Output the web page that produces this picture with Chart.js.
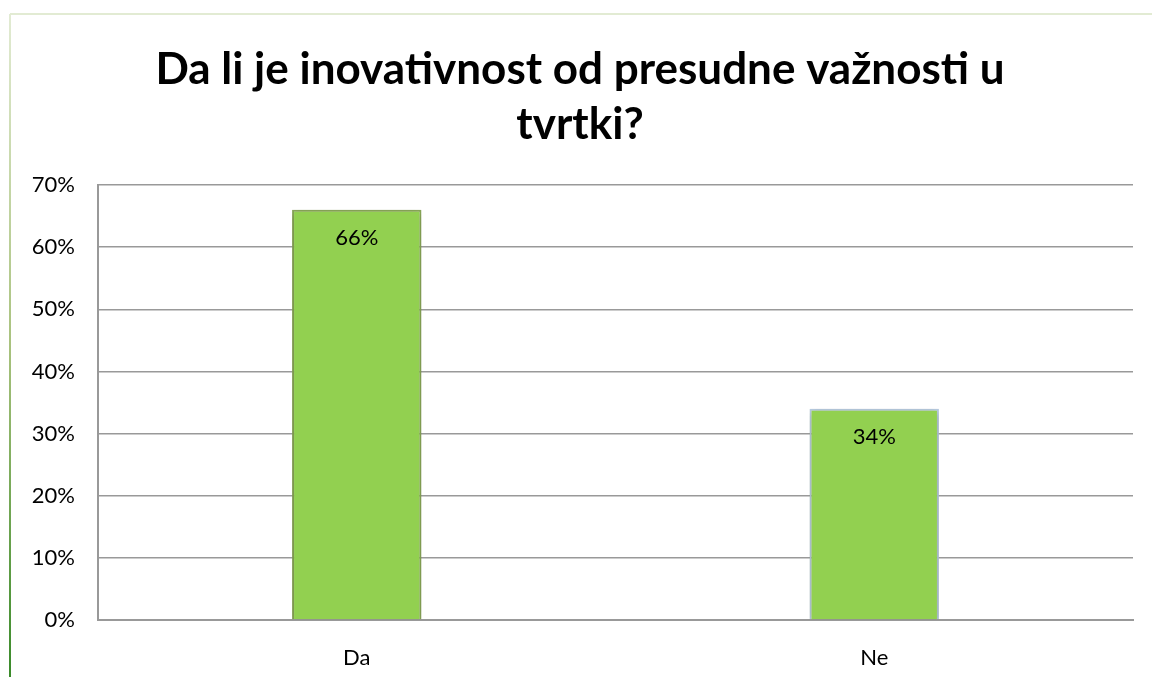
<!DOCTYPE html>
<html>
<head>
<meta charset="utf-8">
<script src="https://cdn.jsdelivr.net/npm/chart.js@4/dist/chart.umd.min.js"></script>
<style>
  html, body { margin: 0; padding: 0; background: #fff; }
  #wrap { position: relative; width: 1152px; height: 677px; }
</style>
</head>
<body>
<div id="wrap"><canvas id="chart" width="1152" height="677"></canvas></div>
<script>
// Podaci ankete
const categories = ['Da', 'Ne'];
const percentages = [66, 34];
const yTicks = [0, 10, 20, 30, 40, 50, 60, 70];
const titleLines = ['Da li je inovativnost od presudne važnosti u', 'tvrtki?'];

const barFill = '#92d050';
const barBorders = ['#8aa85a', '#b9cde5'];
const FONT = 'Lato, "Open Sans", sans-serif';

// okvir oko grafikona (gornja i lijeva linija)
const framePlugin = {
  id: 'frame',
  beforeDraw(chart) {
    const ctx = chart.ctx;
    ctx.save();
    ctx.lineWidth = 2;
    ctx.strokeStyle = '#e2ebd3';
    ctx.beginPath();
    ctx.moveTo(10, 14);
    ctx.lineTo(chart.width, 14);
    ctx.stroke();
    const g = ctx.createLinearGradient(0, 14, 0, chart.height);
    g.addColorStop(0, '#e2ebd3');
    g.addColorStop(0.5, '#a9c27e');
    g.addColorStop(1, '#3a8a2a');
    ctx.strokeStyle = g;
    ctx.beginPath();
    ctx.moveTo(10, 14);
    ctx.lineTo(10, chart.height);
    ctx.stroke();
    ctx.restore();
  }
};

// blaga sjena ispod stupaca
const shadowPlugin = {
  id: 'barShadow',
  beforeDatasetsDraw(chart) {
    const ctx = chart.ctx;
    ctx.save();
    ctx.shadowColor = 'rgba(60,70,20,0.35)';
    ctx.shadowBlur = 8;
    ctx.shadowOffsetX = 0;
    ctx.shadowOffsetY = 2;
  },
  afterDatasetsDraw(chart) {
    chart.ctx.restore();
  }
};

// postoci unutar vrha stupca
const labelPlugin = {
  id: 'valueLabels',
  afterDatasetsDraw(chart) {
    const ctx = chart.ctx;
    const meta = chart.getDatasetMeta(0);
    ctx.save();
    ctx.font = '22px ' + FONT;
    ctx.fillStyle = '#000';
    ctx.textAlign = 'center';
    ctx.textBaseline = 'middle';
    meta.data.forEach((bar, i) => {
      ctx.fillText(percentages[i] + '%', bar.x, bar.y + 28);
    });
    ctx.restore();
  }
};

new Chart(document.getElementById('chart'), {
  type: 'bar',
  data: {
    labels: categories,
    datasets: [{
      data: percentages,
      backgroundColor: barFill,
      borderColor: barBorders,
      borderWidth: 2,
      barPercentage: 0.5,
      categoryPercentage: 0.5
    }]
  },
  options: {
    responsive: false,
    animation: false,
    layout: { padding: { top: 0, right: 19, left: 27, bottom: 0 } },
    plugins: {
      legend: { display: false },
      tooltip: { enabled: false },
      title: {
        display: true,
        text: titleLines,
        color: '#000',
        font: { family: FONT, size: 44, weight: 'bold', lineHeight: 1.25 },
        padding: { top: 42, bottom: 33 }
      }
    },
    scales: {
      x: {
        grid: { display: false, drawTicks: false },
        border: { display: true, color: '#999', width: 2 },
        ticks: { color: '#000', font: { family: FONT, size: 22 }, padding: 25 },
        afterFit(scale) { scale.height = 57; }
      },
      y: {
        min: 0,
        max: 70,
        afterBuildTicks(scale) { scale.ticks = yTicks.map(v => ({ value: v })); },
        grid: { color: '#999', lineWidth: 1.5, drawTicks: false },
        border: { display: true, color: '#999', width: 2 },
        ticks: {
          color: '#000',
          font: { family: FONT, size: 22 },
          padding: 23,
          callback: v => v + '%'
        },
        afterFit(scale) { scale.width = 71; }
      }
    }
  },
  plugins: [framePlugin, shadowPlugin, labelPlugin]
});
</script>
</body>
</html>
